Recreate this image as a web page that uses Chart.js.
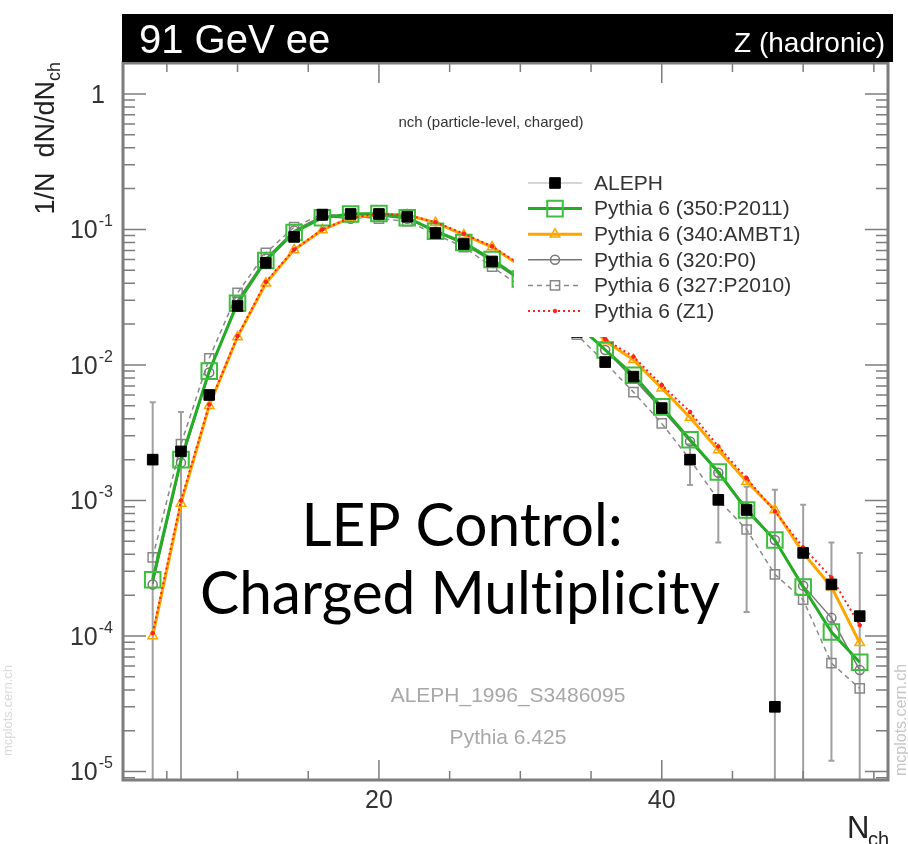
<!DOCTYPE html>
<html>
<head>
<meta charset="utf-8">
<script src="https://cdn.jsdelivr.net/npm/chart.js@4.4.1/dist/chart.umd.min.js"></script>
<style>
  html, body { margin: 0; padding: 0; background: #fff; }
  canvas { display: block; }
</style>
</head>
<body>
<canvas id="nch" width="908" height="844"></canvas>
<script>
// charged multiplicity bins
const nch = [4, 6, 8, 10, 12, 14, 16, 18, 20, 22, 24, 26, 28, 30, 32, 34, 36, 38, 40, 42, 44, 46, 48, 50, 52, 54];

const aleph = [2.0e-3, 2.3e-3, 6.0e-3, 0.0272, 0.0566, 0.088, 0.128, 0.130, 0.130, 0.124, 0.094, 0.078, 0.058,
  0.042, 0.028, 0.0175, 0.0105, 0.0082, 0.0048, 0.0020, 0.00101, 0.00085, 0.00003, 0.00041, 0.00024, 0.00014];
const alephErrUp = [3.3e-3, 2.2e-3, 3e-4, 8e-4, 1.5e-3, 2e-3, 3e-3, 3e-3, 3e-3, 3e-3, 2e-3, 2e-3, 1.5e-3,
  1e-3, 8e-4, 6e-4, 5e-4, 5e-4, 4e-4, 6e-4, 6e-4, 4.1e-4, 1.17e-3, 5.2e-4, 2.5e-4, 2.7e-4];
const alephErrDown = [2.0e-3, 2.3e-3, 3e-4, 8e-4, 1.5e-3, 2e-3, 3e-3, 3e-3, 3e-3, 3e-3, 2e-3, 2e-3, 1.5e-3,
  1e-3, 8e-4, 6e-4, 5e-4, 5e-4, 4e-4, 7e-4, 5.2e-4, 7e-4, 3e-5, 4.1e-4, 2.28e-4, 1.4e-4];

const p2011 = [2.6e-4, 2.0e-3, 0.0090, 0.0285, 0.059, 0.095, 0.122, 0.130, 0.131, 0.122, 0.097, 0.080, 0.060,
  0.043, 0.030, 0.020, 0.0129, 0.0084, 0.0049, 0.0028, 0.00162, 0.00085, 0.00051, 0.00023, 0.000107, 0.000064];
const ambt1 = [1.0e-4, 9.5e-4, 0.0050, 0.0161, 0.040, 0.0706, 0.099, 0.122, 0.130, 0.128, 0.112, 0.091, 0.074,
  0.054, 0.037, 0.0245, 0.0150, 0.0109, 0.00674, 0.00409, 0.00236, 0.00138, 0.00085, 0.00041, 0.00023, 0.000089];
const p0 = [2.4e-4, 1.9e-3, 0.0088, 0.030, 0.061, 0.098, 0.126, 0.120, 0.126, 0.120, 0.096, 0.078, 0.058,
  0.042, 0.029, 0.0195, 0.0129, 0.0079, 0.0047, 0.00272, 0.0016, 0.00088, 0.00051, 0.000235, 0.000136, 0.000056];
const p2010 = [3.8e-4, 2.6e-3, 0.0112, 0.034, 0.067, 0.104, 0.130, 0.125, 0.120, 0.115, 0.092, 0.074, 0.053,
  0.038, 0.026, 0.0167, 0.0104, 0.0063, 0.0037, 0.0020, 0.00101, 0.00061, 0.000285, 0.000185, 0.000063, 0.000041];
const z1 = [1.05e-4, 1.0e-3, 0.0051, 0.0163, 0.041, 0.071, 0.100, 0.122, 0.130, 0.128, 0.113, 0.093, 0.075,
  0.055, 0.038, 0.0252, 0.0155, 0.0115, 0.0071, 0.0045, 0.0025, 0.00146, 0.00083, 0.00045, 0.00027, 0.00012];

const xMinorTicks = [5, 10, 15, 20, 25, 30, 35, 40, 45, 50, 55];
const xLabelTicks = [20, 40];
const yDecades = [-5, -4, -3, -2, -1, 0];

const SANS = '"Liberation Sans", Arial, Helvetica, sans-serif';
const AXIS = '#7d7d7d';

const pts = arr => nch.map((n, i) => ({ x: n, y: arr[i] }));

// legend row: [label, dataset index]
const legendRows = [
  ['ALEPH', 0],
  ['Pythia 6 (350:P2011)', 2],
  ['Pythia 6 (340:AMBT1)', 3],
  ['Pythia 6 (320:P0)', 4],
  ['Pythia 6 (327:P2010)', 5],
  ['Pythia 6 (Z1)', 1]
];

function marker(ctx, style, x, y, r, fill, stroke, lw) {
  ctx.save();
  ctx.setLineDash([]);
  ctx.lineWidth = lw;
  ctx.strokeStyle = stroke;
  ctx.fillStyle = fill;
  ctx.beginPath();
  if (style === 'rect') {
    const s = r * Math.SQRT1_2;
    ctx.rect(x - s, y - s, 2 * s, 2 * s);
  } else if (style === 'triangle') {
    ctx.moveTo(x, y - r);
    ctx.lineTo(x + r * 0.866, y + r * 0.5);
    ctx.lineTo(x - r * 0.866, y + r * 0.5);
    ctx.closePath();
  } else {
    ctx.arc(x, y, r, 0, Math.PI * 2);
  }
  if (fill !== 'transparent') ctx.fill();
  ctx.stroke();
  ctx.restore();
}

const decor = {
  id: 'decor',
  beforeDatasetsDraw(chart) {
    const { ctx, chartArea: a, scales: { x, y } } = chart;
    ctx.save();
    ctx.beginPath();
    ctx.rect(a.left, a.top, a.right - a.left, a.bottom - a.top);
    ctx.clip();
    ctx.strokeStyle = '#a0a0a0';
    ctx.lineWidth = 2;
    nch.forEach((n, i) => {
      const px = x.getPixelForValue(n);
      const top = y.getPixelForValue(aleph[i] + alephErrUp[i]);
      const lo = aleph[i] - alephErrDown[i];
      const bot = lo > 0 ? y.getPixelForValue(lo) : a.bottom + 2;
      ctx.beginPath();
      ctx.moveTo(px, top);
      ctx.lineTo(px, bot);
      ctx.moveTo(px - 3, top);
      ctx.lineTo(px + 3, top);
      if (lo > 0) { ctx.moveTo(px - 3, bot); ctx.lineTo(px + 3, bot); }
      ctx.stroke();
    });
    ctx.restore();
  },
  afterDraw(chart) {
    const { ctx, chartArea: a, scales: { x, y } } = chart;
    ctx.save();

    // legend box
    ctx.fillStyle = '#fff';
    ctx.fillRect(514, 168, 326, 169);
    legendRows.forEach(([label, di], k) => {
      const ds = chart.data.datasets[di];
      const ry = 183 + k * 25.6;
      ctx.save();
      ctx.lineWidth = di === 0 ? 1.5 : ds.borderWidth;
      ctx.strokeStyle = di === 0 ? '#c8c8c8' : ds.borderColor;
      ctx.setLineDash(ds.borderDash || []);
      ctx.beginPath();
      ctx.moveTo(528, ry);
      ctx.lineTo(582, ry);
      ctx.stroke();
      ctx.restore();
      marker(ctx, ds.pointStyle, 555, ry, ds.pointRadius, ds.pointBackgroundColor,
        ds.pointBorderColor, ds.pointBorderWidth);
      ctx.fillStyle = '#333';
      ctx.font = '21px ' + SANS;
      ctx.textAlign = 'left';
      ctx.textBaseline = 'middle';
      ctx.fillText(label, 594, ry + 1);
    });

    // frame and ticks
    ctx.strokeStyle = AXIS;
    ctx.lineWidth = 1.5;
    ctx.beginPath();
    xMinorTicks.forEach(v => {
      const px = x.getPixelForValue(v);
      const len = v % 20 === 0 ? 20 : 9;
      ctx.moveTo(px, a.bottom); ctx.lineTo(px, a.bottom - len);
      ctx.moveTo(px, a.top); ctx.lineTo(px, a.top + len);
    });
    yDecades.forEach(e => {
      for (let k = 1; k <= 9; k++) {
        for (const d of [e, e - 1]) {
          if (d !== e && k === 1) continue;
          if (d === e - 1 && e !== -5) continue;
          const v = k * Math.pow(10, d);
          if (v < y.min || v > y.max) continue;
          const py = y.getPixelForValue(v);
          const len = k === 1 ? 23 : 12;
          ctx.moveTo(a.left, py); ctx.lineTo(a.left + len, py);
          ctx.moveTo(a.right, py); ctx.lineTo(a.right - len, py);
        }
      }
    });
    ctx.stroke();
    ctx.lineWidth = 3;
    ctx.strokeRect(a.left, a.top, a.right - a.left, a.bottom - a.top);

    // tick labels
    ctx.fillStyle = '#333';
    ctx.textBaseline = 'alphabetic';
    ctx.textAlign = 'center';
    ctx.font = '25px ' + SANS;
    xLabelTicks.forEach(v => ctx.fillText(String(v), x.getPixelForValue(v), 808));
    yDecades.forEach(e => {
      const py = y.getPixelForValue(Math.pow(10, e));
      ctx.textAlign = 'right';
      if (e === 0) {
        ctx.font = '25px ' + SANS;
        ctx.fillText('1', 105, py + 9);
        return;
      }
      const sup = String(e);
      ctx.font = '16px ' + SANS;
      const ws = ctx.measureText(sup).width;
      ctx.fillText(sup, 113, py - 3);
      ctx.font = '25px ' + SANS;
      ctx.fillText('10', 113 - ws - 1, py + 9);
    });

    // axis titles
    ctx.fillStyle = '#222';
    ctx.textAlign = 'left';
    ctx.font = '31px ' + SANS;
    ctx.fillText('N', 847, 838);
    ctx.font = '20px ' + SANS;
    ctx.fillText('ch', 868, 846);

    ctx.save();
    ctx.translate(45, 62);
    ctx.rotate(-Math.PI / 2);
    ctx.font = '27px ' + SANS;
    const t1 = '1/N  dN/dN';
    const w1 = ctx.measureText(t1).width;
    ctx.font = '18px ' + SANS;
    const w2 = ctx.measureText('ch').width;
    ctx.font = '27px ' + SANS;
    ctx.fillText(t1, -(w1 + w2), 9);
    ctx.font = '18px ' + SANS;
    ctx.fillText('ch', -w2, 15);
    ctx.restore();

    // header bar
    ctx.fillStyle = '#000';
    ctx.fillRect(122, 14, 771, 48);
    ctx.fillStyle = '#fff';
    ctx.font = '40px ' + SANS;
    ctx.textAlign = 'left';
    ctx.fillText('91 GeV ee', 139, 53);
    ctx.font = '28px ' + SANS;
    ctx.textAlign = 'right';
    ctx.fillText('Z (hadronic)', 885, 52);

    // plot title and info text
    ctx.fillStyle = '#333';
    ctx.textAlign = 'center';
    ctx.font = '15px ' + SANS;
    ctx.fillText('nch (particle-level, charged)', 491, 127);
    ctx.fillStyle = '#a8a8a8';
    ctx.font = '21px ' + SANS;
    ctx.fillText('ALEPH_1996_S3486095', 508, 702);
    ctx.fillText('Pythia 6.425', 508, 744);

    // side watermarks
    ctx.fillStyle = '#c6c6c6';
    ctx.font = '16px ' + SANS;
    ctx.save();
    ctx.translate(906, 776);
    ctx.rotate(-Math.PI / 2);
    ctx.textAlign = 'left';
    ctx.fillText('mcplots.cern.ch', 0, 0);
    ctx.restore();
    ctx.fillStyle = '#dadada';
    ctx.font = '13px ' + SANS;
    ctx.save();
    ctx.translate(12, 756);
    ctx.rotate(-Math.PI / 2);
    ctx.textAlign = 'left';
    ctx.fillText('mcplots.cern.ch', 0, 0);
    ctx.restore();

    // overlay caption (ZWNJ keeps "ti" from ligating)
    const cap2 = 'Charged Mult\u200Ciplicity';
    ctx.fillStyle = '#000';
    ctx.font = '60px Lato, "Open Sans", sans-serif';
    const sx = 520 / ctx.measureText(cap2).width;
    ctx.textAlign = 'center';
    ctx.save();
    ctx.translate(462, 546);
    ctx.scale(sx, 1);
    ctx.fillText('LEP Control:', 0, 0);
    ctx.restore();
    ctx.save();
    ctx.translate(460, 614);
    ctx.scale(sx, 1);
    ctx.fillText(cap2, 0, 0);
    ctx.restore();

    ctx.restore();
  }
};

new Chart(document.getElementById('nch'), {
  type: 'line',
  data: {
    datasets: [
      {
        label: 'ALEPH', data: pts(aleph), showLine: false,
        pointStyle: 'rect', pointRadius: 7.5, pointBackgroundColor: '#000',
        pointBorderColor: '#000', pointBorderWidth: 1, borderColor: '#000', borderWidth: 1
      },
      {
        label: 'Pythia 6 (Z1)', data: pts(z1), borderColor: '#ff2020', borderWidth: 2,
        borderDash: [2, 3], pointStyle: 'circle', pointRadius: 1.8,
        pointBackgroundColor: '#ff2020', pointBorderColor: '#ff2020', pointBorderWidth: 1
      },
      {
        label: 'Pythia 6 (350:P2011)', data: pts(p2011), borderColor: '#22ad22', borderWidth: 3,
        pointStyle: 'rect', pointRadius: 11, pointBackgroundColor: 'transparent',
        pointBorderColor: '#3cbf3c', pointBorderWidth: 2
      },
      {
        label: 'Pythia 6 (340:AMBT1)', data: pts(ambt1), borderColor: '#ffa500', borderWidth: 3,
        pointStyle: 'triangle', pointRadius: 5.5, pointBackgroundColor: 'transparent',
        pointBorderColor: '#ffa500', pointBorderWidth: 1.5
      },
      {
        label: 'Pythia 6 (320:P0)', data: pts(p0), borderColor: '#777', borderWidth: 1.5,
        pointStyle: 'circle', pointRadius: 4.5, pointBackgroundColor: 'transparent',
        pointBorderColor: '#777', pointBorderWidth: 1.5
      },
      {
        label: 'Pythia 6 (327:P2010)', data: pts(p2010), borderColor: '#8a8a8a', borderWidth: 1.5,
        borderDash: [5, 4], pointStyle: 'rect', pointRadius: 6.5, pointBackgroundColor: 'transparent',
        pointBorderColor: '#888', pointBorderWidth: 1.5
      }
    ]
  },
  options: {
    responsive: false,
    animation: false,
    events: [],
    layout: { padding: { left: 123, right: 20, top: 63, bottom: 64 } },
    elements: { line: { tension: 0, fill: false } },
    scales: {
      x: { type: 'linear', min: 1.9, max: 56, display: false },
      y: { type: 'logarithmic', min: 8.65e-6, max: 1.69, display: false }
    },
    plugins: { legend: { display: false }, tooltip: { enabled: false }, title: { display: false } }
  },
  plugins: [decor]
});
</script>
</body>
</html>
